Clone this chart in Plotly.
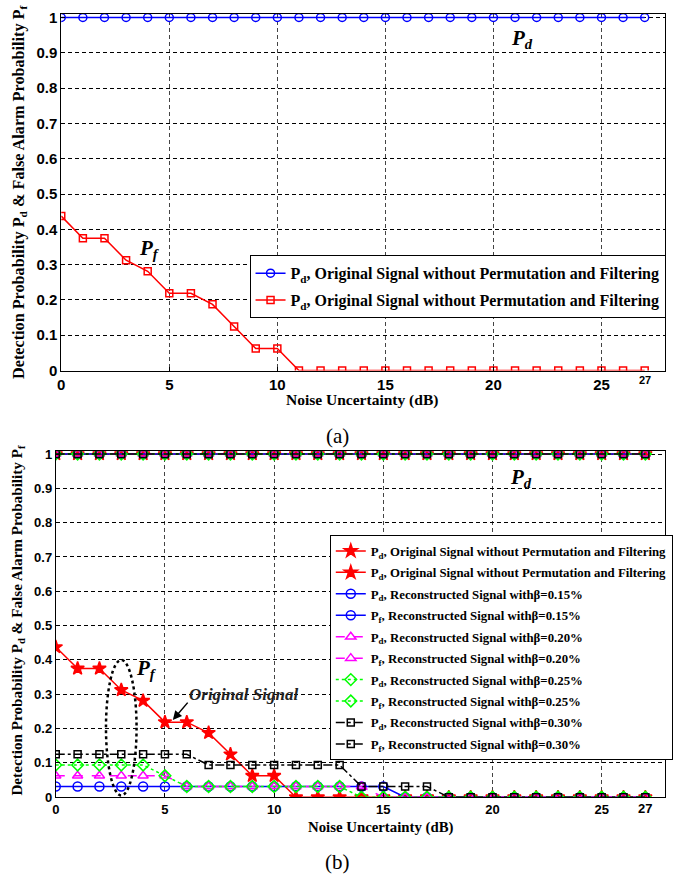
import plotly.graph_objects as go

W, H = 673, 886

# ---------------- data ----------------
noise_db = [0, 1, 2, 3, 4, 5, 6, 7, 8, 9, 10, 11, 12, 13, 14, 15, 16, 17, 18, 19, 20, 21, 22, 23, 24, 25, 26, 27]

pd_original = [1, 1, 1, 1, 1, 1, 1, 1, 1, 1, 1, 1, 1, 1, 1, 1, 1, 1, 1, 1, 1, 1, 1, 1, 1, 1, 1, 1]
pf_original = [0.4375, 0.375, 0.375, 0.3125, 0.28125, 0.21875, 0.21875, 0.1875, 0.125, 0.0625, 0.0625,
               0, 0, 0, 0, 0, 0, 0, 0, 0, 0, 0, 0, 0, 0, 0, 0, 0]

pd_b015 = [1, 1, 1, 1, 1, 1, 1, 1, 1, 1, 1, 1, 1, 1, 1, 1, 1, 1, 1, 1, 1, 1, 1, 1, 1, 1, 1, 1]
pf_b015 = [0.03125, 0.03125, 0.03125, 0.03125, 0.03125, 0.03125, 0.03125, 0.03125, 0.03125, 0.03125,
           0.03125, 0.03125, 0.03125, 0.03125, 0.03125, 0.03125, 0, 0, 0, 0, 0, 0, 0, 0, 0, 0, 0, 0]

pd_b020 = [1, 1, 1, 1, 1, 1, 1, 1, 1, 1, 1, 1, 1, 1, 1, 1, 1, 1, 1, 1, 1, 1, 1, 1, 1, 1, 1, 1]
pf_b020 = [0.0625, 0.0625, 0.0625, 0.0625, 0.0625, 0.0625, 0.03125, 0.03125, 0.03125, 0.03125,
           0.03125, 0.03125, 0.03125, 0.03125, 0.03125, 0, 0, 0, 0, 0, 0, 0, 0, 0, 0, 0, 0, 0]

pd_b025 = [1, 1, 1, 1, 1, 1, 1, 1, 1, 1, 1, 1, 1, 1, 1, 1, 1, 1, 1, 1, 1, 1, 1, 1, 1, 1, 1, 1]
pf_b025 = [0.09375, 0.09375, 0.09375, 0.09375, 0.09375, 0.0625, 0.03125, 0.03125, 0.03125, 0.03125,
           0.03125, 0.03125, 0.03125, 0.03125, 0, 0, 0, 0, 0, 0, 0, 0, 0, 0, 0, 0, 0, 0]

pd_b030 = [1, 1, 1, 1, 1, 1, 1, 1, 1, 1, 1, 1, 1, 1, 1, 1, 1, 1, 1, 1, 1, 1, 1, 1, 1, 1, 1, 1]
pf_b030 = [0.125, 0.125, 0.125, 0.125, 0.125, 0.125, 0.125, 0.09375, 0.09375, 0.09375,
           0.09375, 0.09375, 0.09375, 0.09375, 0.03125, 0.03125, 0.03125, 0.03125,
           0, 0, 0, 0, 0, 0, 0, 0, 0, 0]

x_tickvals = [0, 5, 10, 15, 20, 25]
x_ticktext = ["0", "5", "10", "15", "20", "25"]
x_extra_tick = 27
y_tickvals = [0, 0.1, 0.2, 0.3, 0.4, 0.5, 0.6, 0.7, 0.8, 0.9, 1]
y_ticktext = ["0", "0.1", "0.2", "0.3", "0.4", "0.5", "0.6", "0.7", "0.8", "0.9", "1"]

top_labels = ["P<sub>d</sub>, Original Signal without Permutation and Filtering",
              "P<sub>d</sub>, Original Signal without Permutation and Filtering"]
bottom_labels = ["P<sub>d</sub>, Original Signal without Permutation and Filtering",
                 "P<sub>d</sub>, Original Signal without Permutation and Filtering",
                 "P<sub>d</sub>, Reconstructed Signal with<b>β</b>=0.15%",
                 "P<sub>f</sub>, Reconstructed Signal with<b>β</b>=0.15%",
                 "P<sub>d</sub>, Reconstructed Signal with<b>β</b>=0.20%",
                 "P<sub>f</sub>, Reconstructed Signal with<b>β</b>=0.20%",
                 "P<sub>d</sub>, Reconstructed Signal with<b>β</b>=0.25%",
                 "P<sub>f</sub>, Reconstructed Signal with<b>β</b>=0.25%",
                 "P<sub>d</sub>, Reconstructed Signal with<b>β</b>=0.30%",
                 "P<sub>f</sub>, Reconstructed Signal with<b>β</b>=0.30%"]

SERIF = "Liberation Serif"
SANS = "Liberation Sans"

def px_x(p):
    return p / W

def px_y(p):
    return 1 - p / H

fig = go.Figure()

# ---------------- top chart (a) ----------------
fig.add_trace(go.Scatter(
    x=noise_db, y=pd_original, mode="lines+markers", name=top_labels[0],
    line=dict(color="#0000ff", width=1.5),
    marker=dict(symbol="circle-open", size=8, color="#0000ff", line=dict(width=1.5)),
    xaxis="x", yaxis="y", legend="legend", legendgroup="a1"))
fig.add_trace(go.Scatter(
    x=noise_db, y=pf_original, mode="lines+markers", name=top_labels[1],
    line=dict(color="#ff0000", width=1.5),
    marker=dict(symbol="square-open", size=7, color="#ff0000", line=dict(width=1.5)),
    xaxis="x", yaxis="y", legend="legend", legendgroup="a2"))

# ---------------- bottom chart (b) ----------------
styles = [
    ("#ff0000", "solid", "star", 10),
    ("#0000ff", "solid", "circle-open", 9),
    ("#ff00ff", "dash", "triangle-up-open", 9),
    ("#00ff00", "dot", "diamond-open", 9),
    ("#000000", "dashdot", "square-open", 7),
]
series_b = [(pd_original, pf_original), (pd_b015, pf_b015), (pd_b020, pf_b020),
            (pd_b025, pf_b025), (pd_b030, pf_b030)]
for i, ((pdv, pfv), (col, dash, sym, sz)) in enumerate(zip(series_b, styles)):
    for j, vals in enumerate((pdv, pfv)):
        mk = dict(symbol=sym, size=sz, color=col, line=dict(width=1.5, color=col))
        fig.add_trace(go.Scatter(
            x=noise_db, y=vals, mode="lines+markers", name=bottom_labels[2 * i + j],
            line=dict(color=col, width=1.5, dash=dash), marker=mk,
            xaxis="x2", yaxis="y2", legend="legend2", legendgroup=f"b{2 * i + j}"))

axis_common = dict(
    showline=True, linecolor="black", linewidth=1, mirror=True,
    ticks="inside", ticklen=4, tickcolor="black",
    showgrid=True, gridwidth=1, griddash="4px,3px", zeroline=False,
)

fig.update_layout(
    width=W, height=H,
    margin=dict(l=0, r=0, t=0, b=0),
    paper_bgcolor="white", plot_bgcolor="white",
    showlegend=True,
    xaxis=dict(domain=[px_x(58.3), 1], range=[0, 27.94], anchor="y",
               tickvals=x_tickvals, ticktext=x_ticktext, gridcolor="#444",
               tickfont=dict(family=SANS, size=15, color="black", weight="bold"), **axis_common),
    yaxis=dict(domain=[px_y(371), px_y(9)], range=[0, 1.0103], anchor="x",
               tickvals=y_tickvals, ticktext=y_ticktext, gridcolor="black",
               tickfont=dict(family=SANS, size=15, color="black", weight="bold"), **axis_common),
    xaxis2=dict(domain=[px_x(52.7), 1], range=[0, 27.9], anchor="y2",
                tickvals=x_tickvals, ticktext=x_ticktext, gridcolor="#444",
                tickfont=dict(family=SANS, size=13, color="black", weight="bold"), **axis_common),
    yaxis2=dict(domain=[px_y(804), px_y(453)], range=[0, 1.0078], anchor="x2",
                tickvals=y_tickvals, ticktext=y_ticktext, gridcolor="black",
                tickfont=dict(family=SANS, size=13, color="black", weight="bold"), **axis_common),
    legend=dict(x=px_x(250), y=px_y(254), xanchor="left", yanchor="top",
                bgcolor="white", bordercolor="black", borderwidth=1,
                font=dict(family=SERIF, size=16, color="black", weight="bold"),
                itemwidth=30, tracegroupgap=3),
    legend2=dict(x=px_x(331.7), y=px_y(538), xanchor="left", yanchor="top",
                 bgcolor="white", bordercolor="black", borderwidth=1,
                 font=dict(family=SERIF, size=12.8, color="black", weight="bold"),
                 itemwidth=30, tracegroupgap=1.8),
)

# dotted ellipse around the P_f curves
fig.add_shape(type="circle", xref="x2", yref="y2", x0=2.3, x1=3.7, y0=0.005, y1=0.40,
              line=dict(color="black", width=2.5, dash="dot"))

def note(**kw):
    base = dict(showarrow=False, xanchor="center", yanchor="middle")
    base.update(kw)
    return base

ann = []
# extra "27" tick labels
ann.append(note(x=x_extra_tick, y=px_y(381), xref="x", yref="paper", text="<b>27</b>",
                font=dict(family=SANS, size=11, color="black")))
ann.append(note(x=x_extra_tick, y=px_y(815.5), xref="x2", yref="paper", text="<b>27</b>",
                font=dict(family=SANS, size=13, color="black")))
# curve labels
ann.append(note(x=4.1, y=0.345, xref="x", yref="y", text="<b><i>P<sub>f</sub></i></b>",
                font=dict(family=SERIF, size=21, color="black")))
ann.append(note(x=21.3, y=0.94, xref="x", yref="y", text="<b><i>P<sub>d</sub></i></b>",
                font=dict(family=SERIF, size=21, color="black")))
ann.append(note(x=4.15, y=0.375, xref="x2", yref="y2", text="<b><i>P<sub>f</sub></i></b>",
                font=dict(family=SERIF, size=21, color="black")))
ann.append(note(x=21.3, y=0.93, xref="x2", yref="y2", text="<b><i>P<sub>d</sub></i></b>",
                font=dict(family=SERIF, size=21, color="black")))
ann.append(note(x=8.6, y=0.30, xref="x2", yref="y2", text="<b><i>Original Signal</i></b>",
                font=dict(family=SERIF, size=17, color="#222")))
ann.append(dict(x=5.36, y=0.225, xref="x2", yref="y2", ax=6.1, ay=0.28, axref="x2", ayref="y2",
                text="", showarrow=True, arrowhead=2, arrowsize=1.2, arrowwidth=1.5, arrowcolor="black"))
# axis titles
ylab = "<b>Detection Probability P<sub>d</sub> &amp; False Alarm Probability P<sub>f</sub></b>"
ann.append(note(x=px_x(15), y=px_y(190), xref="paper", yref="paper", text=ylab, textangle=-90,
                font=dict(family=SERIF, size=16.2, color="black")))
ann.append(note(x=px_x(14), y=px_y(624), xref="paper", yref="paper", text=ylab, textangle=-90,
                font=dict(family=SERIF, size=15.2, color="black")))
ann.append(note(x=px_x(365), y=px_y(401), xref="paper", yref="paper",
                text="<b>Noise Uncertainty (dB)</b>",
                font=dict(family=SERIF, size=15.5, color="black")))
ann.append(note(x=px_x(384), y=px_y(835), xref="paper", yref="paper",
                text="<b>Noise Uncertainty (dB)</b>",
                font=dict(family=SERIF, size=14.8, color="black")))
# captions
ann.append(note(x=px_x(340), y=px_y(437), xref="paper", yref="paper", text="(a)",
                font=dict(family=SERIF, size=21, color="black")))
ann.append(note(x=px_x(340), y=px_y(870), xref="paper", yref="paper", text="(b)",
                font=dict(family=SERIF, size=21, color="black")))
fig.update_layout(annotations=ann)

fig.write_html("out.html")
